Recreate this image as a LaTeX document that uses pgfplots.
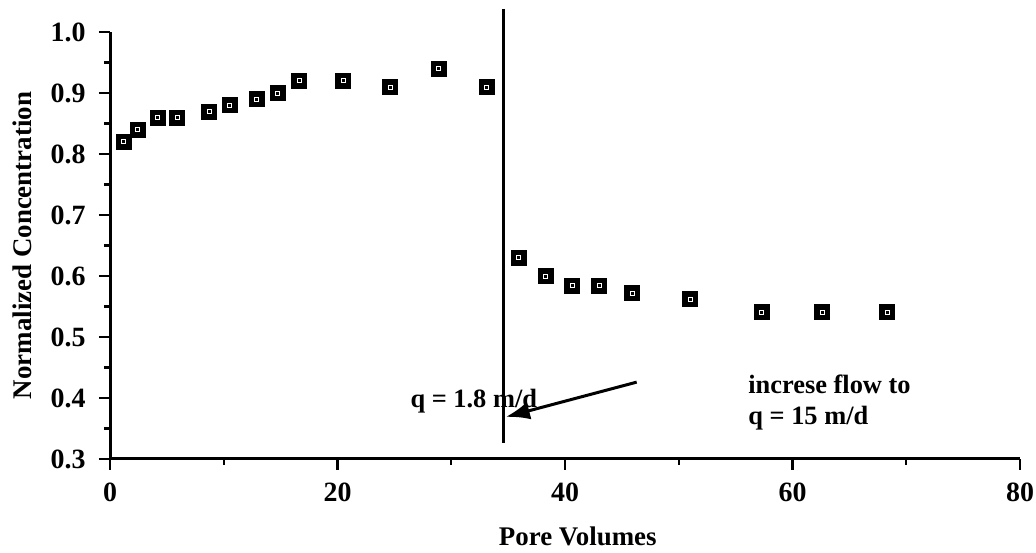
\documentclass[border=0pt]{standalone}
\usepackage{fontspec}
\setmainfont{Liberation Serif}
\usepackage{pgfplots}
\usepackage{pgfplotstable}
\pgfplotsset{compat=1.18}
\usetikzlibrary{arrows.meta}
\pgfplotstableread{
x y
1.2 0.82
2.4 0.84
4.2 0.86
5.9 0.86
8.7 0.87
10.5 0.88
12.9 0.89
14.7 0.90
16.6 0.92
20.5 0.92
24.6 0.91
28.9 0.94
33.1 0.91
35.9 0.63
38.3 0.60
40.6 0.584
43.0 0.584
45.9 0.572
51.0 0.562
57.3 0.541
62.6 0.541
68.3 0.541
}\datatable
\newcommand{\tickfont}{\fontsize{28}{32}\selectfont\bfseries}
\newcommand{\labfont}{\fontsize{27}{32}\selectfont\bfseries}
\newcommand{\annfont}{\fontsize{26.5}{32}\selectfont\bfseries}
\begin{document}
\begin{tikzpicture}[x=1bp,y=1bp]
\path[use as bounding box] (0,0) rectangle (1036,553);
\begin{axis}[
  at={(110bp,94bp)}, anchor=south west,
  scale only axis, width=910bp, height=427bp,
  xmin=0, xmax=80, ymin=0.3, ymax=1.0,
  axis x line*=bottom, axis y line*=left,
  x axis line style={line width=3bp, -},
  y axis line style={line width=3bp, -},
  clip=false,
  xtick={0,20,40,60,80}, minor x tick num=1,
  ytick={0.3,0.4,0.5,0.6,0.7,0.8,0.9,1.0}, minor y tick num=1,
  tick align=outside, major tick length=11bp, minor tick length=6bp,
  major tick style={line width=2.6bp, black},
  minor tick style={line width=2.4bp, black},
  tick label style={font=\tickfont},
  /pgf/number format/assume math mode=true,
  yticklabel style={xshift=-10bp, /pgf/number format/.cd, fixed, fixed zerofill, precision=1},
  xticklabel style={yshift=-9bp},
  xlabel={Pore Volumes}, ylabel={Normalized Concentration},
  label style={font=\labfont},
  xlabel style={at={(axis description cs:0.514,0)}, anchor=base, yshift=-87bp},
  ylabel style={at={(axis description cs:-0.0967,0.5)}, anchor=center},
]
\addplot[only marks, mark=square*, mark size=7.5bp, black] table[x=x,y=y] {\datatable};
\addplot[only marks, mark=square, mark size=2bp, white, line width=0.6bp] table[x=x,y=y] {\datatable};
\draw[line width=2.2bp] (axis cs:34.6,1.038) -- (axis cs:34.6,0.326);
\draw[line width=3bp, -{Latex[length=24bp,width=18bp]}] (axis cs:46.3,0.426) -- (axis cs:34.8,0.369);
\node[font=\annfont, anchor=base west, inner sep=0pt] at (axis cs:26.4,0.385) {q = 1.8 m/d};
\node[font=\annfont, anchor=base west, inner sep=0pt] at (axis cs:56.1,0.408) {increse flow to};
\node[font=\annfont, anchor=base west, inner sep=0pt] at (axis cs:56.1,0.356) {q = 15 m/d};
\end{axis}
\end{tikzpicture}
\end{document}
